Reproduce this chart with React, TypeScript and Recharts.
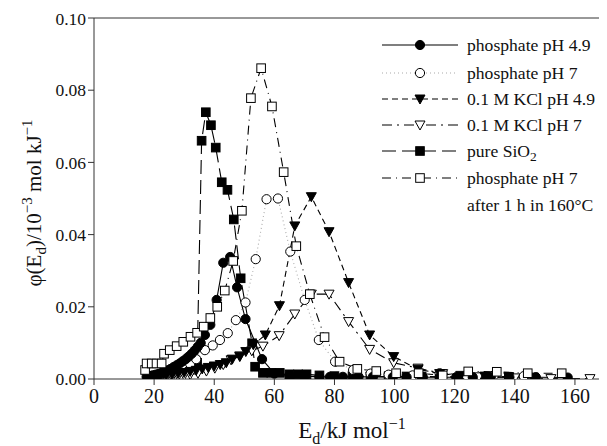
import { LineChart, Line, XAxis, YAxis, ReferenceLine } from "recharts";

// phosphate pH 4.9
const p49X = [17.5, 18.5, 19.5, 20.5, 21.5, 22.5, 23.5, 24.5, 25.5, 26.5, 27.5, 28.5, 29.5, 30.5, 31.5, 32.5, 33.5, 34.5, 35.5, 36.9, 38.7, 40.8, 43.0, 45.3, 47.6, 50.4, 55.9, 60, 65, 70, 75, 78.5, 82.8, 88, 92.8, 99.4, 104, 109.4, 115, 120.5, 126, 132, 138.2, 147, 157.6];
const p49Y = [0.0006, 0.0008, 0.001, 0.0012, 0.0014, 0.0017, 0.002, 0.0024, 0.0028, 0.0033, 0.0038, 0.0043, 0.0049, 0.0055, 0.0062, 0.007, 0.0079, 0.0089, 0.01, 0.0122, 0.015, 0.0219, 0.0322, 0.0338, 0.0254, 0.0166, 0.0055, 0.0015, 0.001, 0.0008, 0.0006, 0.0006, 0.0006, 0.0006, 0.0006, 0.0005, 0.0005, 0.0005, 0.0005, 0.0005, 0.0005, 0.0005, 0.0005, 0.0005, 0.0004];

// phosphate pH 7
const p7X = [18, 20, 22, 24, 26, 28, 30, 32, 34, 36.9, 39.5, 41.9, 44.5, 47.2, 50.4, 53.8, 57.4, 61.2, 65.3, 70.1, 74.8, 80.2, 86.2, 92, 98, 106, 115, 124, 133, 143];
const p7Y = [0.0005, 0.0007, 0.001, 0.0014, 0.0019, 0.0025, 0.0033, 0.0042, 0.0055, 0.008, 0.0093, 0.0108, 0.0127, 0.0163, 0.0212, 0.0332, 0.0498, 0.05, 0.0353, 0.0219, 0.0108, 0.0048, 0.0025, 0.0015, 0.0012, 0.001, 0.0016, 0.001, 0.001, 0.0008];

// 0.1 M KCl pH 4.9
const k49X = [18, 20, 22, 24, 26, 28, 30, 32, 34, 36, 38, 40, 42, 44, 46, 48.5, 50.5, 53, 57, 61.7, 66.8, 72.3, 78.2, 84.7, 91.7, 99.7, 107.8, 115, 122, 130, 138, 146];
const k49Y = [0.0004, 0.0006, 0.0008, 0.001, 0.0012, 0.0015, 0.0018, 0.0021, 0.0024, 0.0028, 0.0032, 0.0036, 0.004, 0.0045, 0.0055, 0.0062, 0.0076, 0.0095, 0.0122, 0.0203, 0.0424, 0.0505, 0.0408, 0.0267, 0.0122, 0.0062, 0.0027, 0.0015, 0.001, 0.0008, 0.0006, 0.0005];

// 0.1 M KCl pH 7
const k7X = [18, 20, 22, 24, 26, 28, 30, 32, 34.6, 37.4, 40.2, 43, 45.6, 48.5, 52.5, 56.2, 61.6, 66.8, 72.3, 78.2, 84.7, 91.7, 99.7, 107.8, 116, 128, 140, 152, 165];
const k7Y = [0.0002, 0.0003, 0.0004, 0.0005, 0.0006, 0.0008, 0.001, 0.0012, 0.0016, 0.0022, 0.003, 0.004, 0.0053, 0.0064, 0.0078, 0.0091, 0.012, 0.018, 0.0235, 0.0235, 0.0159, 0.0082, 0.0045, 0.003, 0.0015, 0.0006, 0.0003, 0.0001, 0.0001];

// pure SiO2
const sX = [18, 20, 22, 24, 26, 28, 30, 32, 34.3, 35.8, 37.2, 38.9, 40.5, 42.5, 44.4, 46.5, 48.8, 52.6, 53.6, 56.2, 59, 61.8, 65, 67.9, 70.7, 75, 80, 86, 92, 98, 104, 109, 115, 122, 130, 138];
const sY = [0.0005, 0.0008, 0.0012, 0.0016, 0.002, 0.0025, 0.003, 0.0036, 0.0045, 0.066, 0.0739, 0.0703, 0.0641, 0.0545, 0.0524, 0.0442, 0.0279, 0.0099, 0.0034, 0.0017, 0.0017, 0.0017, 0.0013, 0.0013, 0.0013, 0.001, 0.0008, 0.0008, 0.0007, 0.0007, 0.0007, 0.0007, 0.0006, 0.0006, 0.0006, 0.0005];

// phosphate pH 7 after 1 h in 160°C
const hX = [17, 17.5, 19.2, 20.8, 22.5, 23.3, 25.2, 27.5, 29.7, 32.1, 34.3, 36.5, 38.7, 41, 43.5, 46.3, 49.2, 52.2, 55.6, 59.2, 63.1, 67.3, 71.8, 76.7, 81.7, 87.6, 93.9, 100.5, 108, 116, 124.5, 134, 144.3, 155.6];
const hY = [0.0025, 0.0043, 0.0043, 0.0043, 0.0043, 0.007, 0.008, 0.0091, 0.0103, 0.0117, 0.0128, 0.0145, 0.0169, 0.02, 0.0245, 0.0327, 0.0466, 0.0778, 0.0861, 0.0755, 0.0573, 0.0368, 0.0235, 0.0116, 0.0048, 0.0028, 0.0022, 0.0016, 0.0016, 0.001, 0.0021, 0.002, 0.0016, 0.0016];

const xTicks = [0, 20, 40, 60, 80, 100, 120, 140, 160];
const yTicks = [0, 0.02, 0.04, 0.06, 0.08, 0.1];

const zip = (xs: number[], ys: number[]) => xs.map((x, i) => ({ x, y: ys[i] }));

const FONT = '"Liberation Serif", "Times New Roman", serif';

type Kind = "circleFill" | "circleOpen" | "triFill" | "triOpen" | "squareFill" | "squareOpen";

function Marker({ kind, cx, cy }: { kind: Kind; cx: number; cy: number }) {
  const fill = kind.endsWith("Fill") ? "#000" : "#fff";
  if (kind.startsWith("circle")) {
    return <circle cx={cx} cy={cy} r={4.6} fill={fill} stroke="#000" strokeWidth={1} />;
  }
  if (kind.startsWith("tri")) {
    return (
      <polygon
        points={`${cx - 5},${cy - 4} ${cx + 5},${cy - 4} ${cx},${cy + 5}`}
        fill={fill}
        stroke="#000"
        strokeWidth={1}
      />
    );
  }
  return <rect x={cx - 4.3} y={cy - 4.3} width={8.6} height={8.6} fill={fill} stroke="#000" strokeWidth={1} />;
}

const dotFor = (kind: Kind) => (props: any) => {
  const { cx, cy, index } = props;
  if (cx == null || cy == null) return <g key={`${kind}-${index}`} />;
  return (
    <g key={`${kind}-${index}`}>
      <Marker kind={kind} cx={cx} cy={cy} />
    </g>
  );
};

const series = [
  { name: "pure SiO2", data: zip(sX, sY), kind: "squareFill" as Kind, dash: "14 6", color: "#000" },
  { name: "phosphate pH 7", data: zip(p7X, p7Y), kind: "circleOpen" as Kind, dash: "1 3", color: "#aaa" },
  { name: "0.1 M KCl pH 7", data: zip(k7X, k7Y), kind: "triOpen" as Kind, dash: "10 5 2 5", color: "#000" },
  { name: "0.1 M KCl pH 4.9", data: zip(k49X, k49Y), kind: "triFill" as Kind, dash: "6 4", color: "#000" },
  { name: "phosphate pH 4.9", data: zip(p49X, p49Y), kind: "circleFill" as Kind, dash: undefined, color: "#000" },
  { name: "phosphate pH 7 160", data: zip(hX, hY), kind: "squareOpen" as Kind, dash: "9 5 1 5", color: "#000" },
];

const legendRows: { label: any; kind: Kind; dash?: string; color: string; y: number }[] = [
  { label: "phosphate pH 4.9", kind: "circleFill", dash: undefined, color: "#000", y: 37 },
  { label: "phosphate pH 7", kind: "circleOpen", dash: "1 3", color: "#aaa", y: 65 },
  { label: "0.1 M KCl pH 4.9", kind: "triFill", dash: "6 4", color: "#000", y: 91 },
  { label: "0.1 M KCl pH 7", kind: "triOpen", dash: "10 5 2 5", color: "#000", y: 117 },
  {
    label: (
      <>
        pure SiO<tspan dy={4} fontSize={13.5}>2</tspan>
      </>
    ),
    kind: "squareFill",
    dash: "14 6",
    color: "#000",
    y: 143,
  },
  { label: "phosphate pH 7", kind: "squareOpen", dash: "9 5 1 5", color: "#000", y: 170 },
];

export default function App() {
  return (
    <div style={{ position: "relative", width: 599, height: 438 }}>
      <LineChart width={599} height={438} margin={{ top: 10, right: 2, left: 0, bottom: 0 }}>
        <XAxis
          type="number"
          dataKey="x"
          domain={[0, 170]}
          ticks={xTicks}
          allowDataOverflow
          height={67}
          tickSize={6}
          tickMargin={4}
          stroke="#333"
          tick={{ fill: "#111", fontSize: 20, fontFamily: FONT }}
        />
        <YAxis
          type="number"
          dataKey="y"
          domain={[0, 0.1]}
          ticks={yTicks}
          allowDataOverflow
          width={86}
          tickSize={6}
          tickMargin={2}
          stroke="#333"
          tickFormatter={(v: number) => v.toFixed(2)}
          tick={{ fill: "#111", fontSize: 17.5, fontFamily: FONT }}
        />
        <ReferenceLine y={0.1} stroke="#333" strokeWidth={1} ifOverflow="extendDomain" />
        {series.map((s) => (
          <Line
            key={s.name}
            data={s.data}
            dataKey="y"
            type="linear"
            stroke={s.color}
            strokeWidth={1.1}
            strokeDasharray={s.dash}
            dot={dotFor(s.kind)}
            activeDot={false}
            isAnimationActive={false}
          />
        ))}
      </LineChart>
      <svg
        width={599}
        height={438}
        style={{ position: "absolute", left: 0, top: 0, pointerEvents: "none" }}
        fontFamily={FONT}
      >
        {legendRows.map((r, i) => (
          <g key={i}>
            <line x1={374} x2={450} y1={r.y} y2={r.y} stroke={r.color} strokeWidth={1.1} strokeDasharray={r.dash} />
            <Marker kind={r.kind} cx={412} cy={r.y} />
            <text x={459} y={r.y + 6} fontSize={17.6} fill="#111">
              {r.label}
            </text>
          </g>
        ))}
        <text x={459} y={203} fontSize={17.6} fill="#111">
          after 1 h in 160°C
        </text>
        <text x={344} y={430} fontSize={23} fill="#111" textAnchor="middle">
          E<tspan dy={6} fontSize={16}>d</tspan>
          <tspan dy={-6}>/kJ mol</tspan>
          <tspan dy={-9} fontSize={16}>−1</tspan>
        </text>
        <text transform="translate(33,195) rotate(-90)" fontSize={21} fill="#111" textAnchor="middle">
          φ(E<tspan dy={5} fontSize={15}>d</tspan>
          <tspan dy={-5}>)/10</tspan>
          <tspan dy={-9} fontSize={15}>−3</tspan>
          <tspan dy={9}> mol kJ</tspan>
          <tspan dy={-9} fontSize={15}>−1</tspan>
        </text>
      </svg>
    </div>
  );
}
